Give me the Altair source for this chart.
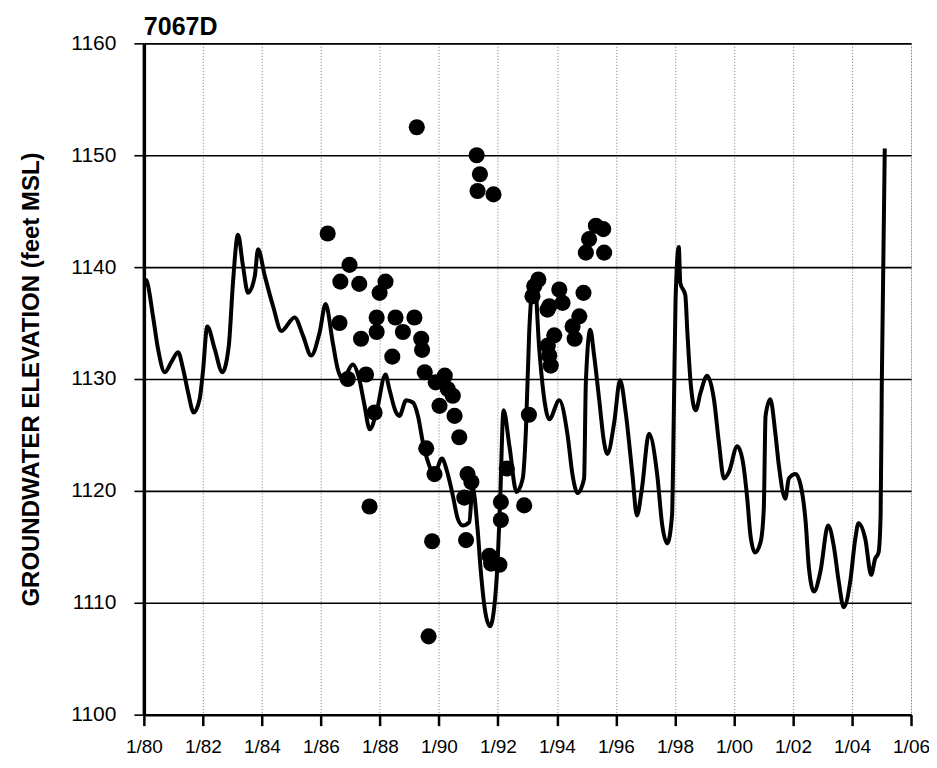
import altair as alt
import pandas as pd

# Simulated groundwater elevation (line)
line_year = [1980.03, 1980.09, 1980.31, 1980.48, 1980.71, 1980.93, 1981.16, 1981.33, 1981.5, 1981.69,
             1981.89, 1982.0, 1982.15, 1982.4, 1982.66, 1982.88, 1983.02, 1983.19, 1983.36, 1983.53,
             1983.76, 1983.87, 1984.1, 1984.38, 1984.66, 1985.11, 1985.39, 1985.67, 1985.96, 1986.16,
             1986.4, 1986.57, 1986.74, 1987.08, 1987.3, 1987.46, 1987.66, 1987.88, 1988.19, 1988.32,
             1988.55, 1988.66, 1988.89, 1989.12, 1989.29, 1989.46, 1989.63, 1989.85, 1990.1, 1990.28,
             1990.47, 1990.64, 1990.81, 1991.03, 1991.14, 1991.31, 1991.42, 1991.57, 1991.73, 1991.87,
             1991.99, 1992.07, 1992.19, 1992.39, 1992.63, 1992.84, 1992.95, 1993.06, 1993.18, 1993.23,
             1993.4, 1993.57, 1993.74, 1994.08, 1994.36, 1994.53, 1994.7, 1994.92, 1994.98, 1995.13,
             1995.26, 1995.43, 1995.6, 1995.71, 1995.94, 1996.14, 1996.33, 1996.56, 1996.71, 1996.88,
             1997.12, 1997.4, 1997.57, 1997.74, 1997.9, 1997.96, 1998.02, 1998.13, 1998.18, 1998.35,
             1998.42, 1998.53, 1998.7, 1998.87, 1999.09, 1999.32, 1999.49, 1999.66, 1999.83, 2000.11,
             2000.28, 2000.45, 2000.56, 2000.71, 2000.9, 2001.01, 2001.07, 2001.23, 2001.4, 2001.52,
             2001.74, 2001.86, 2002.09, 2002.26, 2002.43, 2002.54, 2002.71, 2002.93, 2003.19, 2003.38,
             2003.55, 2003.72, 2003.94, 2004.11, 2004.22, 2004.45, 2004.65, 2004.78, 2004.9, 2004.97,
             2005.01, 2005.11]
line_elev = [1138.9, 1138.8, 1135.6, 1132.7, 1130.6, 1131.5, 1132.4, 1130.9, 1128.8, 1127.0,
             1128.2, 1130.6, 1134.7, 1132.7, 1130.6, 1133.0, 1138.6, 1142.9, 1140.1, 1137.7,
             1139.2, 1141.6, 1139.2, 1136.5, 1134.3, 1135.5, 1133.9, 1132.1, 1134.2, 1136.7,
             1133.3, 1130.9, 1130.0, 1131.3, 1130.0, 1127.9, 1125.5, 1127.0, 1130.4, 1129.1,
             1127.0, 1126.7, 1128.1, 1127.9, 1126.7, 1124.3, 1122.6, 1121.5, 1122.9, 1121.7,
             1119.6, 1117.5, 1116.9, 1117.2, 1120.3, 1116.6, 1112.8, 1109.2, 1107.9, 1109.5,
             1113.7, 1118.7, 1127.2, 1124.0, 1119.9, 1121.1, 1125.5, 1134.2, 1138.6, 1139.2,
             1132.7, 1128.2, 1126.4, 1128.1, 1125.0, 1121.4, 1119.8, 1121.1, 1129.7, 1134.4,
             1132.1, 1128.2, 1124.3, 1123.3, 1126.1, 1129.9, 1127.0, 1121.4, 1117.8, 1120.2,
             1125.1, 1121.4, 1116.9, 1115.3, 1117.8, 1126.7, 1137.1, 1141.8, 1138.6, 1137.5,
             1134.2, 1129.7, 1127.2, 1128.8, 1130.3, 1128.2, 1124.3, 1121.1, 1121.7, 1124.0,
             1122.9, 1119.3, 1116.0, 1114.5, 1115.4, 1118.4, 1126.7, 1128.2, 1125.2, 1122.3,
             1119.3, 1121.1, 1121.5, 1120.5, 1117.2, 1113.1, 1111.0, 1112.8, 1116.9, 1115.1,
             1111.9, 1109.6, 1111.9, 1115.7, 1117.1, 1115.7, 1112.5, 1113.9, 1114.5, 1117.8,
             1129.7, 1150.6]

# Observed groundwater elevation (dots)
obs_year = [1986.23, 1986.66, 1986.63, 1986.97, 1987.30, 1986.91, 1987.53, 1987.36, 1987.89, 1987.89,
            1988.19, 1987.99, 1988.42, 1988.53, 1988.78, 1989.17, 1989.40, 1989.43, 1989.25, 1989.52,
            1989.89, 1990.20, 1990.30, 1990.47, 1990.02, 1990.53, 1987.82, 1990.69, 1989.57, 1987.65,
            1989.85, 1989.77, 1989.65, 1990.97, 1991.10, 1990.86, 1990.92, 1991.71, 1992.05, 1991.77,
            1992.30, 1992.10, 1992.10, 1993.05, 1992.89, 1991.28, 1991.39, 1991.31, 1991.85, 1995.09,
            1995.32, 1995.57, 1994.98, 1995.60, 1993.37, 1993.23, 1993.17, 1994.08, 1993.68, 1994.19,
            1994.90, 1994.76, 1994.53, 1994.60, 1993.91, 1993.69, 1993.79, 1993.74, 1993.74]
obs_elev = [1143.0, 1138.7, 1135.0, 1140.2, 1138.5, 1130.0, 1130.4, 1133.6, 1135.5, 1134.2,
            1138.7, 1137.7, 1132.0, 1135.5, 1134.2, 1135.5, 1133.6, 1132.6, 1152.5, 1130.6,
            1129.7, 1130.3, 1129.1, 1128.5, 1127.6, 1126.7, 1127.0, 1124.8, 1123.8, 1118.6,
            1121.5, 1115.5, 1107.0, 1121.5, 1120.8, 1119.4, 1115.6, 1114.2, 1113.4, 1113.5,
            1122.0, 1119.0, 1117.4, 1126.8, 1118.7, 1150.0, 1148.3, 1146.8, 1146.5, 1142.5,
            1143.7, 1143.4, 1141.3, 1141.3, 1138.9, 1138.3, 1137.4, 1138.0, 1136.2, 1136.8,
            1137.7, 1135.6, 1134.7, 1133.6, 1133.9, 1133.0, 1131.2, 1132.1, 1136.5]

x_ticks = list(range(1980, 2007, 2))
y_ticks = list(range(1100, 1161, 10))

line_df = pd.DataFrame({"year": line_year, "elev": line_elev})
obs_df = pd.DataFrame({"year": obs_year, "elev": obs_elev})

FONT = "Liberation Sans"

x_enc = alt.X(
    "year:Q",
    scale=alt.Scale(domain=[1980, 2006], nice=False, zero=False),
    axis=alt.Axis(
        values=x_ticks,
        labelExpr="'1/' + slice(toString(datum.value), 2)",
        title=None,
        grid=True, gridColor="#777777", gridDash=[1, 2], gridWidth=1,
        domainColor="black", domainWidth=2.5,
        tickColor="black", tickSize=11, tickWidth=2.5,
        labelFont=FONT, labelFontSize=19, labelColor="black", labelPadding=12,
        labelFlush=False,
    ),
)
y_enc = alt.Y(
    "elev:Q",
    scale=alt.Scale(domain=[1100, 1160], nice=False, zero=False),
    axis=alt.Axis(
        values=y_ticks,
        format="d",
        title="GROUNDWATER ELEVATION (feet MSL)",
        titleFont=FONT, titleFontSize=24, titleFontWeight="bold", titleColor="black",
        titleX=-112, titleY=336, titleAngle=-90, titleAlign="center", titleBaseline="middle",
        grid=True, gridColor="black", gridWidth=1.6,
        domainColor="black", domainWidth=3.5,
        tickColor="black", tickSize=10, tickWidth=1.6,
        labelFont=FONT, labelFontSize=21, labelColor="black", labelPadding=18,
        labelFlush=False,
    ),
)

line = alt.Chart(line_df).mark_line(color="black", strokeWidth=4, interpolate="monotone").encode(
    x=x_enc, y=y_enc, order="year:Q"
)
dots = alt.Chart(obs_df).mark_circle(color="black", size=260, opacity=1).encode(
    x="year:Q", y="elev:Q"
)

chart = (
    alt.layer(line, dots)
    .properties(
        width=768,
        height=672,
        title=alt.TitleParams("7067D", anchor="start", frame="group", font=FONT, fontSize=25,
                              fontWeight="bold", color="black", offset=-8),
        autosize=alt.AutoSizeParams(type="none"),
        padding={"left": 136, "top": 35, "right": 18, "bottom": 43},
    )
    .configure_view(stroke=None)
    .configure(background="white")
)

chart.save("out.html", embed_options={"renderer": "svg", "actions": False})
